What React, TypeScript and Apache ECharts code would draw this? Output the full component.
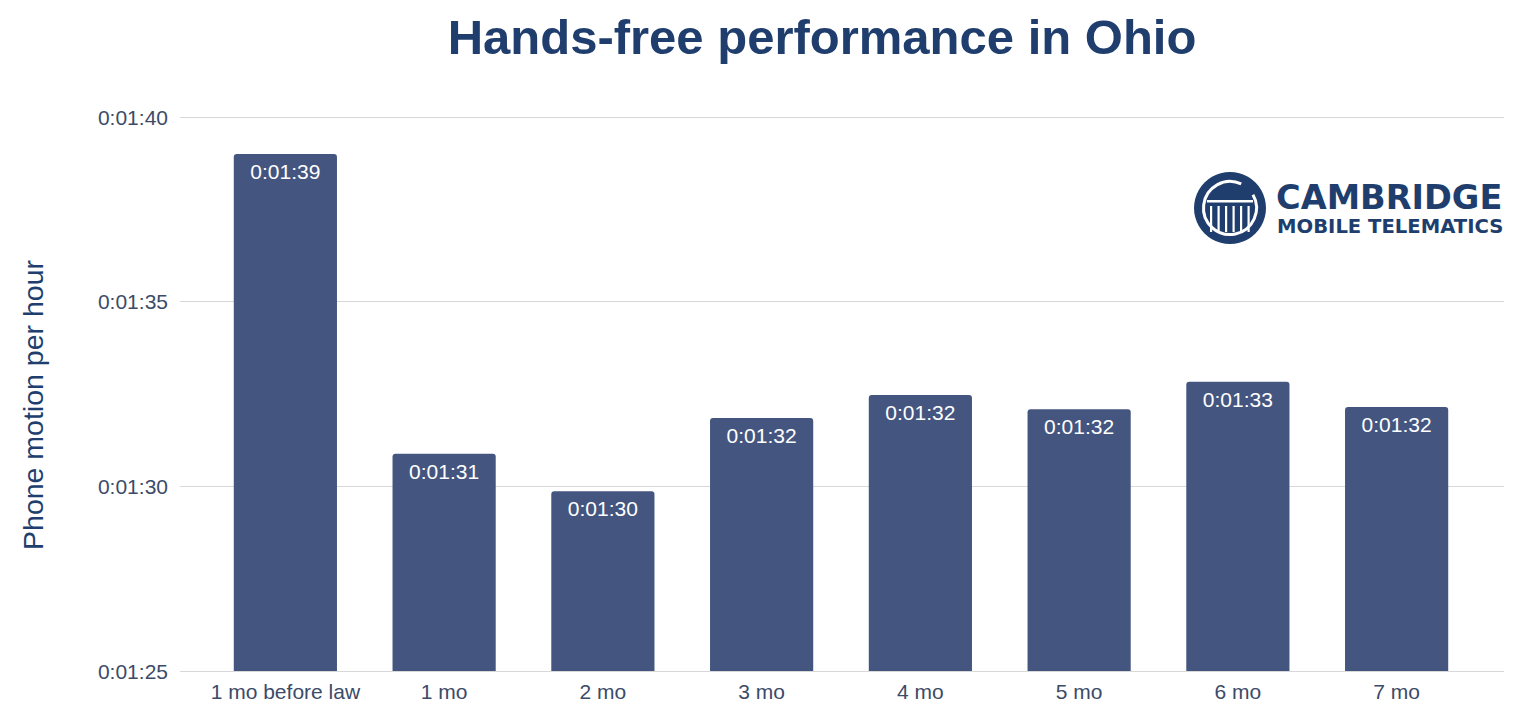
import React, { useEffect, useRef } from "react";
import * as echarts from "echarts";

const categories = ["1 mo before law", "1 mo", "2 mo", "3 mo", "4 mo", "5 mo", "6 mo", "7 mo"];
// phone motion per hour, in seconds
const values = [99.0, 90.88, 89.87, 91.85, 92.47, 92.09, 92.83, 92.15];
const yMin = 85;
const yMax = 100;
const yStep = 5;

const titleText = "Hands-free performance in Ohio";
const yAxisTitle = "Phone motion per hour";
const logoLine1 = "CAMBRIDGE";
const logoLine2 = "MOBILE TELEMATICS";

const pad = (n: number) => (n < 10 ? "0" + n : "" + n);
const fmt = (v: number) => {
  const t = Math.round(v);
  const h = Math.floor(t / 3600);
  const m = Math.floor((t % 3600) / 60);
  const s = t % 60;
  return `${h}:${pad(m)}:${pad(s)}`;
};

const FONT = "'Liberation Sans', Arial, Helvetica, sans-serif";
const NAVY = "#203e6d";
const BAR = "#44567f";
const AXIS_TEXT = "#3c4b68";

export default function App() {
  const ref = useRef<HTMLDivElement>(null);
  useEffect(() => {
    document.body.style.margin = "0";
    if (!ref.current) return;
    const chart = echarts.init(ref.current, undefined, { renderer: "svg" });

    const cx = 1230;
    const cy = 208;
    const stripes = [1211, 1218.5, 1226, 1233.5, 1241, 1248.5];

    const option: any = {
      animation: false,
      backgroundColor: "#ffffff",
      grid: [
        { left: 206, right: 60, top: 117, bottom: 48 },
        { left: 180, right: 32, top: 117, bottom: 48 },
      ],
      xAxis: [
        {
          type: "category",
          gridIndex: 0,
          data: categories,
          axisLine: { show: false },
          axisTick: { show: false },
          axisLabel: { color: AXIS_TEXT, fontSize: 21, fontFamily: FONT, margin: 10, interval: 0 },
        },
        { type: "value", gridIndex: 1, show: false, min: 0, max: 1 },
      ],
      yAxis: [
        { type: "value", gridIndex: 0, min: yMin, max: yMax, interval: yStep, show: false },
        {
          type: "value",
          gridIndex: 1,
          min: yMin,
          max: yMax,
          interval: yStep,
          axisLine: { show: false },
          axisTick: { show: false },
          axisLabel: {
            color: AXIS_TEXT,
            fontSize: 21,
            fontFamily: FONT,
            margin: 12,
            formatter: (v: number) => fmt(v),
          },
          splitLine: { lineStyle: { color: "#d8d8d8", width: 1 } },
        },
      ],
      series: [
        {
          type: "bar",
          xAxisIndex: 0,
          yAxisIndex: 0,
          data: values,
          barCategoryGap: "35%",
          itemStyle: { color: BAR, borderRadius: [3, 3, 0, 0] },
          label: {
            show: true,
            position: "insideTop",
            distance: 7,
            color: "#ffffff",
            fontSize: 21,
            fontFamily: FONT,
            formatter: (p: any) => fmt(p.value),
          },
        },
      ],
      graphic: [
        {
          type: "text",
          x: 822,
          y: 37,
          style: {
            text: titleText,
            fill: NAVY,
            font: `bold 49px ${FONT}`,
            align: "center",
            verticalAlign: "middle",
          },
        },
        {
          type: "text",
          x: 33,
          y: 405,
          rotation: Math.PI / 2,
          style: {
            text: yAxisTitle,
            fill: NAVY,
            font: `28.5px ${FONT}`,
            align: "center",
            verticalAlign: "middle",
          },
        },
        // logo
        { type: "circle", shape: { cx, cy, r: 36 }, style: { fill: NAVY }, z: 10 },
        {
          type: "arc",
          shape: { cx, cy, r: 26.5, startAngle: (-30 * Math.PI) / 180, endAngle: (295 * Math.PI) / 180, clockwise: true },
          style: { stroke: "#ffffff", lineWidth: 3, fill: "none" },
          z: 11,
        },
        {
          type: "rect",
          shape: { x: 1207, y: 200, width: 46, height: 2.5 },
          style: { fill: "#ffffff" },
          z: 11,
        },
        ...stripes.map((sx) => ({
          type: "rect",
          shape: { x: sx - 1, y: 206, width: 2.2, height: 26 },
          style: { fill: "#ffffff" },
          z: 11,
        })),
        {
          type: "text",
          x: 1276,
          y: 197,
          style: {
            text: logoLine1,
            fill: NAVY,
            font: `bold 33.6px 'DejaVu Sans', sans-serif`,
            lineHeight: 26,
            align: "left",
            verticalAlign: "middle",
          },
          z: 10,
        },
        {
          type: "text",
          x: 1277,
          y: 226,
          style: {
            text: logoLine2,
            fill: NAVY,
            font: `bold 19.6px 'DejaVu Sans', sans-serif`,
            lineHeight: 16,
            align: "left",
            verticalAlign: "middle",
          },
          z: 10,
        },
      ],
    };
    chart.setOption(option);
    return () => chart.dispose();
  }, []);
  return <div ref={ref} style={{ width: 1536, height: 719 }} />;
}
